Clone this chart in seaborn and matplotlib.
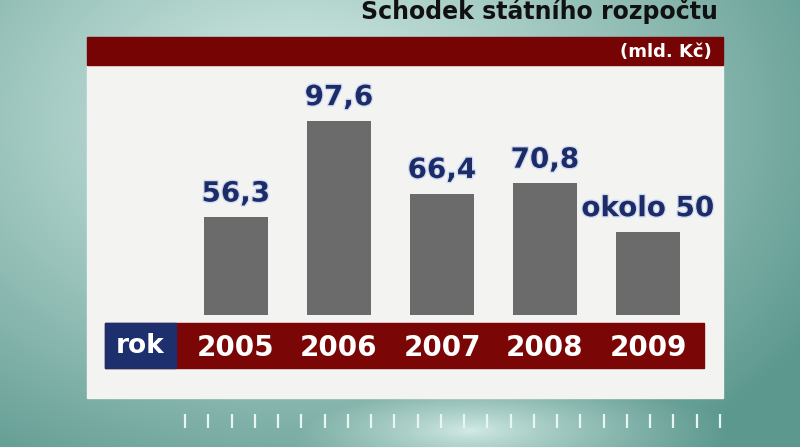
import numpy as np
import pandas as pd
import matplotlib
matplotlib.use('Agg')
import matplotlib.pyplot as plt
import matplotlib.patheffects as pe
from matplotlib.patches import Rectangle
import seaborn as sns

# data
roky = ['2005', '2006', '2007', '2008', '2009']
schodek = [56.3, 97.6, 66.4, 70.8, 50.0]
popisky = ['56,3', '97,6', '66,4', '70,8', 'okolo 50']
nadpis = 'Schodek státního rozpočtu'
jednotka = '(mld. Kč)'
osa_x = 'rok'

df = pd.DataFrame({'rok': roky, 'schodek': schodek})

sns.set_style('white')
plt.rcParams['font.family'] = ['DejaVu Sans']

W, H = 800, 447
fig = plt.figure(figsize=(8, 4.47), dpi=100)

# pozadi - tyrkysovy prechod + svetla skvrna dole
bg = fig.add_axes([0, 0, 1, 1])
yy, xx = np.mgrid[0:H, 0:W]
d1 = np.sqrt(((xx - 300) / 600) ** 2 + ((yy - 120) / 420) ** 2)
d2 = np.sqrt(((xx - 470) / 260) ** 2 + ((yy - 430) / 70) ** 2)
t = np.minimum(np.clip(d1, 0, 1) ** 1.1, np.clip(d2, 0, 1) ** 0.8)
light = np.array([212, 236, 230]) / 255
dark = np.array([92, 152, 142]) / 255
img = light + (dark - light) * t[..., None]
bg.imshow(img, extent=[0, W, H, 0], aspect='auto', zorder=0)
bg.set_xlim(0, W)
bg.set_ylim(H, 0)
bg.axis('off')

# bily panel, cervene pruhy
bg.add_patch(Rectangle((87, 60), 636, 338, color='#f3f3f1', zorder=1))
bg.add_patch(Rectangle((87, 37), 636, 28, color='#760404', zorder=2))
bg.add_patch(Rectangle((105, 323), 599, 45, color='#7a0606', zorder=2))
bg.add_patch(Rectangle((105, 323), 71, 45, color='#1d2f6c', zorder=3))
# dekorativni carky dole
bg.vlines(np.linspace(185, 720, 24), 414, 428, color='#e8f6f2', lw=1.6, zorder=1)

bg.text(718, 19, nadpis, ha='right', va='baseline', fontsize=17,
        fontweight='bold', color='#111111', zorder=4)
bg.text(712, 52, jednotka, ha='right', va='center', fontsize=13,
        fontweight='bold', color='white', zorder=4)
bg.text(140, 346, osa_x, ha='center', va='center', fontsize=19,
        fontweight='bold', color='white', zorder=4)

# sloupce
ax = fig.add_axes([184.5 / W, (H - 315) / H, 515 / W, 245 / H])
ax.patch.set_alpha(0)
sns.barplot(data=df, x='rok', y='schodek', color='#6b6b6b', saturation=1,
            width=0.63, linewidth=0, ax=ax)
ax.set_xlim(-0.5, 4.5)
ax.set_ylim(14.4, 119.4)
ax.axis('off')

for i, (v, lab) in enumerate(zip(schodek, popisky)):
    ax.annotate(lab, (i, v), xytext=(0, 7), textcoords='offset points',
                ha='center', va='bottom', fontsize=20, fontweight='bold',
                color='#1b2c68', clip_on=False,
                path_effects=[pe.withStroke(linewidth=2, foreground='#d3dcef')])
    # roky v cervenem pruhu
    ax.annotate(roky[i], (i, 0), xycoords=('data', 'axes fraction'),
                xytext=(0, -23.5), textcoords='offset points',
                ha='center', va='center', fontsize=20, fontweight='bold',
                color='white', annotation_clip=False)

fig.savefig('out.png', dpi=100)
